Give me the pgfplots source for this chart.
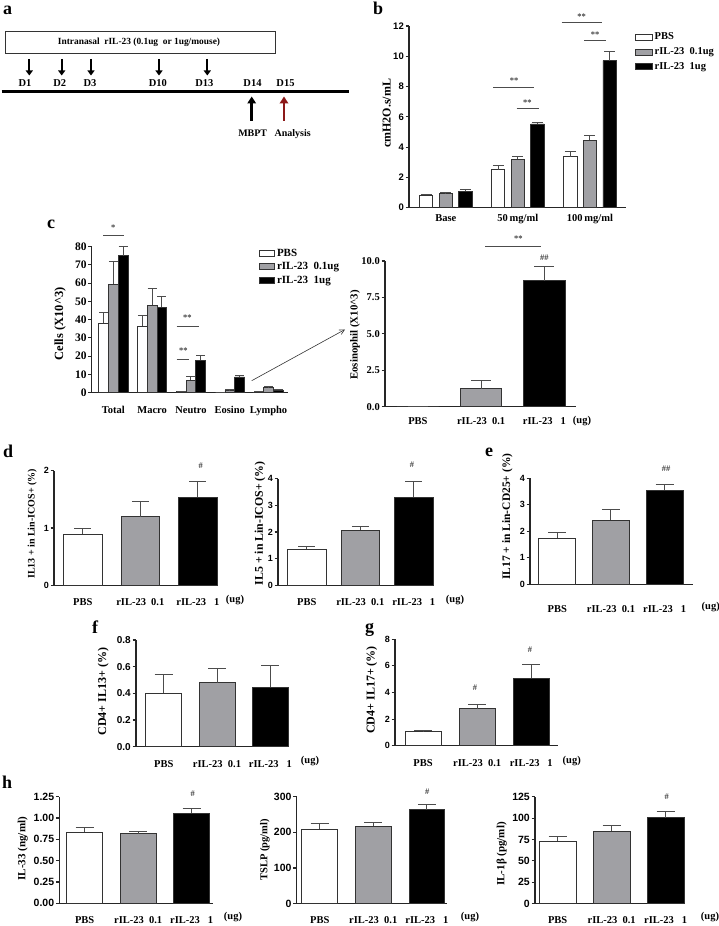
\documentclass[border=0pt]{standalone}
\usepackage{pgfplots}
\pgfplotsset{compat=1.18}
\usepackage{fontspec}
\setmainfont{Liberation Serif}
\setsansfont{Liberation Sans}
\usetikzlibrary{arrows.meta}
\definecolor{bargray}{RGB}{160,160,164}
\definecolor{darkred}{RGB}{140,25,25}
\newcommand{\rb}[1]{\fontsize{#1}{#1}\selectfont\rmfamily\bfseries}
\newcommand{\sfb}[1]{\fontsize{#1}{#1}\selectfont\sffamily\bfseries}
\pgfplotsset{
  gp/.style={
    scale only axis, clip=false, anchor=south west,
    axis x line*=bottom, axis y line*=left,
    axis line style={line width=1.1pt, black!85},
    tick align=outside, major tick length=3.5pt,
    xtick style={draw=none},
    ytick style={line width=1.1pt, black!85},
    ymin=0, xtick={1,2,3},
    yticklabel style={font={\sfb{9}}, inner sep=1.5pt},
    xticklabel style={font={\rb{10.5}}, anchor=base},
    xticklabels={PBS,{rIL-23\ \ 0.1},{rIL-23\ \ \ 1}},
  },
  gpbar/.style 2 args={ybar, bar shift=0pt, bar width=#2, fill=#1, draw=black!80, line width=0.8pt},
  eb/.style={error bars/y dir=plus, error bars/y explicit,
    error bars/error bar style={line width=1pt, black!70},
    error bars/error mark options={rotate=90, line width=1pt, black!70, mark size=#1}},
  lsq/.style={legend image code/.code={\draw[##1, line width=0.8pt] (0pt,-3pt) rectangle (#1,3pt);}},
}
\begin{document}
\begin{tikzpicture}
\path[use as bounding box] (0,0) rectangle (718pt,926pt);

% ---------- b  (groups at 1,2,3; series offsets -0.272, 0, +0.272)
\begin{axis}[gp, at={(409pt,718.3pt)}, width=217pt, height=181.7pt,
  xmin=0.49, xmax=3.5, ymax=12, ytick={0,2,4,6,8,10,12}, yticklabels={0,2,4,6,8,10,12},
  yticklabel style={font={\sfb{9.5}}},
  xticklabels={Base,{50\,mg/ml},{100\,mg/ml}},
  xticklabel style={yshift=-10.6pt},
  legend style={at={(axis description cs:1.04,0.975)}, anchor=north west, draw=none, fill=none, font={\rb{10.5}}, row sep=2.5pt, inner sep=0pt},
  legend cell align=left]
\addplot[gpbar={white}{0.184}, eb=5.5pt, lsq=17pt] coordinates {(0.728,0.82) +- (0,0.06) (1.728,2.5) +- (0,0.27) (2.728,3.38) +- (0,0.36)};
\addplot[gpbar={bargray}{0.184}, eb=5.5pt, lsq=17pt] coordinates {(1,0.97) +- (0,0.03) (2,3.2) +- (0,0.17) (3,4.47) +- (0,0.33)};
\addplot[gpbar={black}{0.184}, eb=5.5pt, lsq=17pt] coordinates {(1.272,1.08) +- (0,0.13) (2.272,5.53) +- (0,0.12) (3.272,9.72) +- (0,0.6)};
\legend{PBS,{rIL-23\ \ 0.1ug},{rIL-23\ \ 1ug}}
\end{axis}

% ---------- c left (groups at 1..5; series offsets -0.25, 0, +0.25)
\begin{axis}[gp, at={(91.7pt,533.3pt)}, width=196.6pt, height=146pt,
  xmin=0.44, xmax=5.51, ymax=80, ytick={0,10,20,30,40,50,60,70,80}, yticklabels={0,10,20,30,40,50,60,70,80},
  yticklabel style={font={\rb{11.5}}}, xtick={1,2,3,4,5}, xticklabels={Total,Macro,Neutro,Eosino,Lympho},
  xticklabel style={yshift=-17.5pt},
  legend style={at={(axis description cs:0.851,0.998)}, anchor=north west, draw=none, fill=none, font={\rb{11}}, row sep=0.5pt, inner sep=0pt},
  legend cell align=left]
\addplot[gpbar={white}{0.25}, eb=4.5pt, lsq=15pt] coordinates {(0.75,38.0) +- (0,5.8) (1.75,36.5) +- (0,5.7) (2.75,0.7) +- (0,0.2) (3.75,0) +- (0,0) (4.75,0.5) +- (0,0.2)};
\addplot[gpbar={bargray}{0.25}, eb=4.5pt, lsq=15pt] coordinates {(1,59.5) +- (0,12.3) (2,47.9) +- (0,9.1) (3,6.9) +- (0,1.9) (4,1.3) +- (0,0.4) (5,2.7) +- (0,0.8)};
\addplot[gpbar={black}{0.25}, eb=4.5pt, lsq=15pt] coordinates {(1.25,75.1) +- (0,4.9) (2.25,46.8) +- (0,6.0) (3.25,17.9) +- (0,2.4) (4.25,8.6) +- (0,0.9) (5.25,1.5) +- (0,0.3)};
\legend{PBS,{rIL-23\ \ 0.1ug},{rIL-23\ \ 1ug}}
\end{axis}

% ---------- c right
\begin{axis}[gp, at={(385pt,519.3pt)}, width=191pt, height=145.7pt,
  xmin=0.48, xmax=3.5, ymax=10, ytick={0,2.5,5,7.5,10}, yticklabels={0.0,2.5,5.0,7.5,10.0},
  yticklabel style={font={\rb{10.5}}}, xticklabel style={yshift=-14.6pt}]
\addplot[gpbar={white}{0.65}, eb=10pt] coordinates {(1,0) +- (0,0)};
\addplot[gpbar={bargray}{0.65}, eb=10pt] coordinates {(2,1.24) +- (0,0.57)};
\addplot[gpbar={black}{0.65}, eb=10pt] coordinates {(3,8.65) +- (0,0.96)};
\end{axis}

% ---------- d1
\begin{axis}[gp, at={(54pt,340.7pt)}, width=164pt, height=114.6pt,
  xmin=0.5, xmax=3.35, ymax=2, ytick={0,1,2}, yticklabels={0,1,2}, xticklabel style={yshift=-17pt}]
\addplot[gpbar={white}{0.67}, eb=8.5pt] coordinates {(1,0.895) +- (0,0.095)};
\addplot[gpbar={bargray}{0.67}, eb=8.5pt] coordinates {(2,1.20) +- (0,0.26)};
\addplot[gpbar={black}{0.67}, eb=8.5pt] coordinates {(3,1.535) +- (0,0.275)};
\end{axis}

% ---------- d2
\begin{axis}[gp, at={(278pt,340.7pt)}, width=155pt, height=106.6pt,
  xmin=0.46, xmax=3.36, ymax=4, ytick={0,1,2,3,4}, yticklabels={0,1,2,3,4}, xticklabel style={yshift=-17pt}]
\addplot[gpbar={white}{0.72}, eb=8.5pt] coordinates {(1,1.35) +- (0,0.10)};
\addplot[gpbar={bargray}{0.72}, eb=8.5pt] coordinates {(2,2.075) +- (0,0.135)};
\addplot[gpbar={black}{0.72}, eb=8.5pt] coordinates {(3,3.31) +- (0,0.58)};
\end{axis}

% ---------- e
\begin{axis}[gp, at={(530pt,341.7pt)}, width=163pt, height=106pt,
  xmin=0.49, xmax=3.53, ymax=4, ytick={0,1,2,3,4}, yticklabels={0,1,2,3,4}, xticklabel style={yshift=-25pt}]
\addplot[gpbar={white}{0.69}, eb=9pt] coordinates {(1,1.74) +- (0,0.20)};
\addplot[gpbar={bargray}{0.69}, eb=9pt] coordinates {(2,2.43) +- (0,0.40)};
\addplot[gpbar={black}{0.69}, eb=9pt] coordinates {(3,3.55) +- (0,0.22)};
\end{axis}

% ---------- f
\begin{axis}[gp, at={(136pt,179.3pt)}, width=153pt, height=106.7pt,
  xmin=0.48, xmax=3.35, ymax=0.8, ytick={0,0.2,0.4,0.6,0.8}, yticklabels={0.0,0.2,0.4,0.6,0.8},
  yticklabel style={font={\sfb{10}}}, xticklabel style={yshift=-17.3pt}]
\addplot[gpbar={white}{0.68}, eb=9pt] coordinates {(1,0.40) +- (0,0.145)};
\addplot[gpbar={bargray}{0.68}, eb=9pt] coordinates {(2,0.48) +- (0,0.105)};
\addplot[gpbar={black}{0.68}, eb=9pt] coordinates {(3,0.445) +- (0,0.165)};
\end{axis}

% ---------- g
\begin{axis}[gp, at={(395pt,180.3pt)}, width=163.3pt, height=106.4pt,
  xmin=0.48, xmax=3.5, ymax=8, ytick={0,2,4,6,8}, yticklabels={0,2,4,6,8}, xticklabel style={yshift=-17.6pt}]
\addplot[gpbar={white}{0.67}, eb=9pt] coordinates {(1,1.05) +- (0,0.10)};
\addplot[gpbar={bargray}{0.67}, eb=9pt] coordinates {(2,2.78) +- (0,0.35)};
\addplot[gpbar={black}{0.67}, eb=9pt] coordinates {(3,5.06) +- (0,1.03)};
\end{axis}

% ---------- h1
\begin{axis}[gp, at={(59.3pt,22.7pt)}, width=153.7pt, height=106.6pt,
  xmin=0.525, xmax=3.4, ymax=1.25, ytick={0,0.25,0.5,0.75,1,1.25}, yticklabels={0.00,0.25,0.50,0.75,1.00,1.25},
  yticklabel style={font={\sfb{10.5}}}, xticklabel style={yshift=-16.7pt}]
\addplot[gpbar={white}{0.67}, eb=9pt] coordinates {(1,0.836) +- (0,0.051)};
\addplot[gpbar={bargray}{0.67}, eb=9pt] coordinates {(2,0.816) +- (0,0.028)};
\addplot[gpbar={black}{0.67}, eb=9pt] coordinates {(3,1.055) +- (0,0.055)};
\end{axis}

% ---------- h2
\begin{axis}[gp, at={(296.7pt,22.3pt)}, width=150pt, height=107pt,
  xmin=0.57, xmax=3.37, ymax=300, ytick={0,100,200,300}, yticklabels={0,100,200,300},
  yticklabel style={font={\sfb{10.5}}}, xticklabel style={yshift=-16.7pt}]
\addplot[gpbar={white}{0.67}, eb=9pt] coordinates {(1,209) +- (0,15)};
\addplot[gpbar={bargray}{0.67}, eb=9pt] coordinates {(2,217) +- (0,11)};
\addplot[gpbar={black}{0.67}, eb=9pt] coordinates {(3,263.5) +- (0,14)};
\end{axis}

% ---------- h3
\begin{axis}[gp, at={(535pt,22.3pt)}, width=149pt, height=107pt,
  xmin=0.58, xmax=3.34, ymax=125, ytick={0,25,50,75,100,125}, yticklabels={0,25,50,75,100,125},
  yticklabel style={font={\sfb{10.5}}}, xticklabel style={yshift=-16.7pt}]
\addplot[gpbar={white}{0.68}, eb=9pt] coordinates {(1,73.2) +- (0,5.8)};
\addplot[gpbar={bargray}{0.68}, eb=9pt] coordinates {(2,84.9) +- (0,6.6)};
\addplot[gpbar={black}{0.68}, eb=9pt] coordinates {(3,100.5) +- (0,7)};
\end{axis}

\begin{scope}[x=1pt,y=1pt]
% panel letters
\foreach \l/\x/\y in {a/3/15, b/373/15, c/47/228.3, d/3/457.3, e/485/456.7, f/92/633.3, g/365/632.7, h/2/789}
  \node[font={\rb{18}}, anchor=base west, inner sep=0pt] at (\x,926-\y) {\l};

% ----- panel a
\draw[line width=0.8pt, black!80] (5,926-31) rectangle (275,926-53);
\node[font={\rb{9.4}}] at (139,926-42) {Intranasal\ \ rIL-23 (0.1ug\ \ or 1ug/mouse)};
\foreach \x in {29.3,61.7,91,159,207.3}
  \draw[line width=2pt, -{Triangle[length=5pt,width=7pt]}] (\x,926-59) -- (\x,926-75.5);
\foreach \t/\x in {D1/25, D2/59.7, D3/90, D10/157.8, D13/204.3, D14/252.5, D15/285.5}
  \node[font={\rb{10.5}}, anchor=base] at (\x,926-87) {\t};
\draw[line width=3pt] (1.7,926-91.7) -- (349.3,926-91.7);
\draw[line width=2.5pt, -{Triangle[length=7pt,width=8.5pt]}] (251.7,926-121) -- (251.7,926-96.5);
\draw[line width=2.5pt, darkred, -{Triangle[length=7pt,width=8.5pt]}] (284,926-121) -- (284,926-96.5);
\node[font={\rb{10}}, anchor=base] at (252.7,926-137) {MBPT};
\node[font={\rb{10}}, anchor=base] at (292.7,926-137) {Analysis};

% ----- y labels
\node[font={\rb{12}}, rotate=90] at (386.7,926-113.3) {cmH2O.s/mL};
\node[font={\rb{12.5}}, rotate=90] at (60,926-323.7) {Cells (X10\^{}3)};
\node[font={\rb{10.8}}, rotate=90] at (355,926-335) {Eosinophil (X10\^{}3)};
\node[font={\rb{10}}, rotate=90] at (32.3,926-524) {IL13 + in Lin-ICOS+ (\%)};
\node[font={\rb{11.8}}, rotate=90] at (260,926-523.3) {IL5 + in Lin-ICOS+ (\%)};
\node[font={\rb{11.5}}, rotate=90] at (507.3,926-516.7) {IL17 + in Lin-CD25+ (\%)};
\node[font={\rb{12}}, rotate=90] at (103.3,926-691.7) {CD4+ IL13+ (\%)};
\node[font={\rb{12}}, rotate=90] at (371.7,926-690) {CD4+ IL17+ (\%)};
\node[font={\rb{11}}, rotate=90] at (22.7,926-848.7) {IL-33 (ng/ml)};
\node[font={\rb{10.5}}, rotate=90] at (265,926-850) {TSLP (pg/ml)};
\node[font={\rb{11}}, rotate=90] at (501.7,926-854) {IL-1β (pg/ml)};

% ----- (ug) units
\foreach \x/\y in {582/423.3, 235/602.3, 455/602.3, 710.7/609.3, 310/764, 571.7/763.3, 233/920, 470/920, 710/920}
  \node[font={\rb{10.5}}, anchor=base] at (\x,926-\y) {(ug)};

% ----- significance
\begin{scope}[black!70, line width=0.6pt]
\draw (493.3,926-87.3) -- (534,926-87.3);
\draw (516.7,926-108.3) -- (539,926-108.3);
\draw (561.7,926-22.3) -- (601.7,926-22.3);
\draw (584.3,926-40.7) -- (606,926-40.7);
\draw (103.3,926-235.3) -- (124.3,926-235.3);
\draw (176.7,926-326.7) -- (199,926-326.7);
\draw (176.7,926-359) -- (189,926-359);
\draw (485.3,926-246.7) -- (541.3,926-246.7);
\end{scope}
\foreach \t/\x/\y in {**/514/84, **/527.3/105.5, **/581.7/19.5, **/595/38, */113.3/230.5, **/187.3/321, **/183.3/354, **/518.3/242, \#\#/544.3/260.3, \#/200.7/469, \#/412/468, \#\#/666/472, \#/475/690.3, \#/530/653, \#/192.7/797, \#/427.3/794.7, \#/666.7/800}
  \node[font={\rb{8.5}}, text=black!75, anchor=base, inner sep=0pt] at (\x,926-\y) {\t};

% ----- arrow c
\draw[line width=0.6pt, black!80, -{Straight Barb[length=5pt,width=5pt]}] (251.7,926-380.7) -- (345,926-329.5);
\end{scope}
\end{tikzpicture}
\end{document}
